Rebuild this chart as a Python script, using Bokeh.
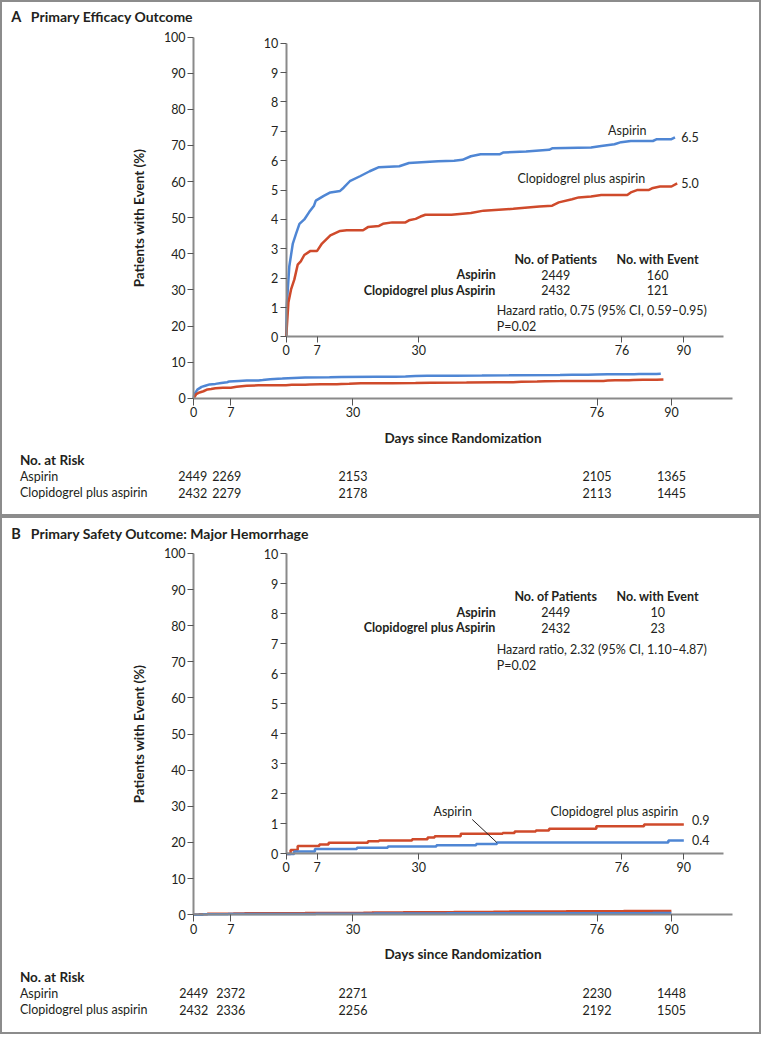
from bokeh.plotting import figure
from bokeh.layouts import column
from bokeh.models import Range1d, LinearAxis, FixedTicker, Label
from bokeh.embed import file_html
from bokeh.resources import INLINE

# ---------------- data ----------------
tick_days = [0, 7, 30, 76, 90]
outer_y_ticks = list(range(0, 101, 10))
inner_y_ticks = list(range(0, 11))

# Panel A: primary efficacy outcome (cumulative %)
a_asp_days = [0, 0.1, 0.7, 1.5, 2.2, 3.0, 4.1, 5.2, 6.3, 6.7, 8.5, 10, 12.2, 13, 14.4, 16.7,
              18.9, 21, 25.6, 27.8, 34.4, 38, 39.9, 41.8, 44, 48.4, 49.2, 54.3, 59.5, 60.2,
              69, 71.3, 74.3, 75.8, 78, 83, 83.9, 87.2, 88]
a_asp_vals = [0, 1.0, 2.4, 3.18, 3.5, 3.85, 4.0, 4.25, 4.47, 4.64, 4.8, 4.92, 4.97, 5.08, 5.3, 5.47,
              5.64, 5.78, 5.81, 5.92, 5.98, 6.0, 6.03, 6.15, 6.22, 6.22, 6.28, 6.31, 6.37, 6.42,
              6.45, 6.5, 6.56, 6.63, 6.67, 6.67, 6.73, 6.73, 6.79]
a_clop_days = [0, 0.5, 1.1, 1.85, 2.6, 3.3, 4.1, 5.5, 7, 8.1, 10, 12.2, 13.7, 17.4, 18.5, 21,
               21.9, 24, 27, 27.8, 29.3, 30.4, 31.5, 37.4, 41.8, 44.7, 51.4, 57.3, 60.2, 61.7,
               64.7, 66.2, 69, 71.3, 77.2, 78, 79.4, 82, 82.8, 84.6, 87.2, 88.5]
a_clop_vals = [0, 1.17, 1.62, 1.96, 2.46, 2.57, 2.79, 2.93, 2.93, 3.18, 3.46, 3.61, 3.63, 3.63, 3.74, 3.78,
               3.85, 3.9, 3.9, 3.97, 4.02, 4.1, 4.16, 4.16, 4.22, 4.3, 4.36, 4.44, 4.47, 4.58,
               4.69, 4.75, 4.78, 4.83, 4.83, 4.92, 5.0, 5.0, 5.06, 5.12, 5.12, 5.23]
a_risk_asp = ["2449", "2269", "2153", "2105", "1365"]
a_risk_clop = ["2432", "2279", "2178", "2113", "1445"]
a_table = [("Aspirin", "2449", "160"), ("Clopidogrel plus Aspirin", "2432", "121")]
a_hr = "Hazard ratio, 0.75 (95% CI, 0.59\u20130.95)"
a_p = "P=0.02"
a_end = ("6.5", "5.0")

# Panel B: primary safety outcome (major hemorrhage, %)
b_asp_days = [0, 1.8, 6.5, 16, 23, 34, 43, 47.7, 86.5, 90]
b_asp_vals = [0, 0.08, 0.17, 0.21, 0.25, 0.29, 0.33, 0.38, 0.45, 0.45]
b_clop_days = [0, 1.0, 2.6, 7.5, 9.6, 18.5, 21, 28.5, 32, 33.6, 39.5, 49, 51.7, 56.5, 59.5, 70.2, 81, 90]
b_clop_vals = [0, 0.13, 0.27, 0.32, 0.37, 0.42, 0.45, 0.49, 0.55, 0.59, 0.67, 0.70, 0.75, 0.78, 0.84, 0.92, 0.98, 0.98]
b_risk_asp = ["2449", "2372", "2271", "2230", "1448"]
b_risk_clop = ["2432", "2336", "2256", "2192", "1505"]
b_table = [("Aspirin", "2449", "10"), ("Clopidogrel plus Aspirin", "2432", "23")]
b_hr = "Hazard ratio, 2.32 (95% CI, 1.10\u20134.87)"
b_p = "P=0.02"
b_end = ("0.4", "0.9")

# ---------------- style / layout ----------------
FONT = "Lato"
TEXT = "#231f20"
AXIS = "#8a8a8a"
BLUE = "#4f86d4"
RED = "#cf4a2b"
REF_W, REF_H = 777, 1050          # reference design space
W, H_TOTAL = 761, 1034            # what fits in the window
SX, SY = W / REF_W, H_TOTAL / REF_H


def xr(px0, ppu, width):
    s = -px0 / ppu
    return Range1d(s, s + width / ppu)


def yr(py0, ppu, height):
    top = py0 / ppu
    return Range1d(top - height / ppu, top)


def style_axis(ax, ticks, size="12.5px"):
    ax.ticker = FixedTicker(ticks=ticks)
    ax.axis_line_color = AXIS
    ax.axis_line_width = 2
    ax.major_tick_line_color = "#555555"
    ax.major_tick_line_width = 1
    ax.major_tick_out = 6
    ax.major_tick_in = 0
    ax.minor_tick_line_color = None
    ax.major_label_text_font = FONT
    ax.major_label_text_font_size = size
    ax.major_label_text_color = TEXT
    ax.major_label_standoff = 2
    ax.axis_label_text_font = FONT
    ax.axis_label_text_font_style = "bold"
    ax.axis_label_text_font_size = "13.5px"
    ax.axis_label_text_color = TEXT


def txt(p, x, y, s, align="left", bold=False, size="12.5px", xname="page_x", yname="page_y", x_offset=0):
    p.add_layout(Label(x=x, y=y, text=s, x_range_name=xname, y_range_name=yname,
                       text_align=align, text_baseline="middle", text_font=FONT,
                       text_font_size=size, text_font_style="bold" if bold else "normal",
                       text_color=TEXT, x_offset=x_offset))


def panel(top, bottom, letter, title, oy0, iy0, iy_ppu, curves, step, table, hr, pval,
          risk_asp, risk_clop, geo):
    hr_ref = bottom - top
    H = round(hr_ref * SY)
    p = figure(width=W, height=H, output_backend="svg", toolbar_location=None,
               x_axis_type=None, y_axis_type=None, min_border=0,
               x_range=xr(197.2, 5.42, REF_W), y_range=yr(oy0 - top, 3.668, hr_ref))
    p.outline_line_color = "#8c8c8c"
    p.outline_line_width = 3
    p.background_fill_color = "white"
    p.border_fill_color = "white"
    p.extra_x_ranges = {"ix": xr(291.7, 4.511, REF_W), "page_x": Range1d(0, REF_W)}
    p.extra_y_ranges = {"iy": yr(iy0 - top, iy_ppu, hr_ref), "page_y": Range1d(bottom, top)}

    # outer axes
    oy = LinearAxis(fixed_location=0, bounds=(0, 100), axis_label="Patients with Event (%)",
                    axis_label_standoff=14)
    style_axis(oy, outer_y_ticks)
    p.add_layout(oy, "left")
    ox = LinearAxis(fixed_location=0, bounds=(0, 101.5), axis_label="Days since Randomization",
                    axis_label_standoff=9)
    style_axis(ox, tick_days)
    ox.major_tick_out = 7
    p.add_layout(ox, "below")
    # inner axes
    iy = LinearAxis(fixed_location=0, bounds=(0, 10), x_range_name="ix", y_range_name="iy")
    style_axis(iy, inner_y_ticks)
    p.add_layout(iy, "left")
    ix = LinearAxis(fixed_location=0, bounds=(0, 99), x_range_name="ix", y_range_name="iy")
    style_axis(ix, tick_days)
    p.add_layout(ix, "below")

    for (d, v, c) in curves:
        if step:
            p.step(d, v, mode="after", line_color=c, line_width=2.5)
            p.step(d, v, mode="after", line_color=c, line_width=2.5, x_range_name="ix", y_range_name="iy")
        else:
            p.line(d, v, line_color=c, line_width=2.5)
            p.line(d, v, line_color=c, line_width=2.5, x_range_name="ix", y_range_name="iy")

    # headings
    txt(p, 11.0, geo["title_y"], letter, bold=True, size="14.5px")
    txt(p, 31.0, geo["title_y"], title, bold=True, size="14px")

    # inner table
    ty = geo["table_y"]
    txt(p, 567, ty, "No. of Patients", align="center", bold=True)
    txt(p, 671, ty, "No. with Event", align="center", bold=True)
    for i, (name, n, e) in enumerate(table):
        yy = ty + 15.7 * (i + 1)
        txt(p, 505.7, yy, name, align="right", bold=True)
        txt(p, 567, yy, n, align="center")
        txt(p, 671, yy, e, align="center")
    txt(p, 506.7, geo["hr_y"], hr)
    txt(p, 506.7, geo["hr_y"] + 16.5, pval)

    # curve labels
    for (s, x, y, al) in geo["labels"]:
        txt(p, x, y, s, align=al)
    if "leader" in geo:
        x0, y0, x1, y1 = geo["leader"]
        p.segment(x0=[x0], y0=[y0], x1=[x1], y1=[y1], line_color=TEXT, line_width=1,
                  x_range_name="page_x", y_range_name="page_y")

    # risk table
    ry = geo["risk_y"]
    txt(p, 19.8, ry, "No. at Risk", bold=True, size="13.5px")
    txt(p, 19.8, ry + 16.5, "Aspirin")
    txt(p, 19.8, ry + 33, "Clopidogrel plus aspirin")
    for i, d in enumerate(tick_days):
        off = geo["risk_off"][i]
        txt(p, d, ry + 16.5, risk_asp[i], align="center", xname="default", x_offset=off)
        txt(p, d, ry + 33, risk_clop[i], align="center", xname="default", x_offset=off)
    return p


geoA = dict(title_y=16.7, table_y=262.7, hr_y=315,
            labels=[("Aspirin", 640, 131.7, "center"), (a_end[0], 695, 139, "left"),
                    ("Clopidogrel plus aspirin", 593, 181, "center"), (a_end[1], 695, 185, "left")],
            risk_y=466.7, risk_off=[-1, -4, 0, 0, 0])
geoB = dict(title_y=541.7, table_y=605.7, hr_y=659,
            labels=[("Aspirin", 461.7, 823.3, "center"), ("Clopidogrel plus aspirin", 626.7, 823.3, "center"),
                    (b_end[1], 706, 832.3, "left"), (b_end[0], 706, 852.3, "left")],
            leader=(481.7, 831.7, 506.7, 855),
            risk_y=991.7, risk_off=[0, 0, 0, 0, 0])

pA = panel(0, 524, "A", "Primary Efficacy Outcome", 404, 341.7, 29.84,
           [(a_asp_days, a_asp_vals, BLUE), (a_clop_days, a_clop_vals, RED)], False,
           a_table, a_hr, a_p, a_risk_asp, a_risk_clop, geoA)
pB = panel(524, 1050, "B", "Primary Safety Outcome: Major Hemorrhage", 928.3, 866.7, 30.5,
           [(b_clop_days, b_clop_vals, RED), (b_asp_days, b_asp_vals, BLUE)], True,
           b_table, b_hr, b_p, b_risk_asp, b_risk_clop, geoB)

layout = column(pA, pB, spacing=0)
open("out.html", "w").write(file_html(layout, INLINE))
